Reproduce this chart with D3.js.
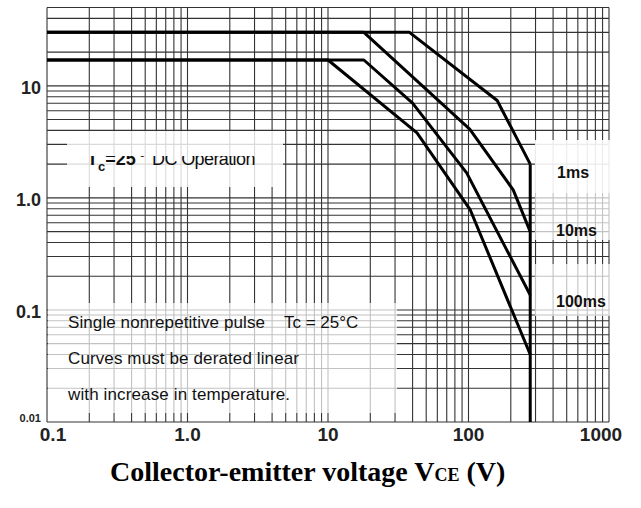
<!DOCTYPE html>
<html lang="en">
<head>
  <meta charset="UTF-8">
  <title>Safe Operating Area</title>
  <script src="https://d3js.org/d3.v7.min.js"></script>
  <style>
    body { margin: 0; background: #fff; }
    svg { display: block; }
    .grid line { stroke: #333; stroke-width: 1.1px; }
    .curve { fill: none; stroke: #000; stroke-width: 3px; stroke-linejoin: round; }
    .tick { font-family: "Liberation Sans", Arial, sans-serif; font-weight: bold; fill: #222; }
    .note { font-family: "Liberation Sans", Arial, sans-serif; font-size: 17px; fill: #111; }
    .lbl { font-family: "Liberation Sans", Arial, sans-serif; font-weight: bold; font-size: 16px; fill: #111; }
    .title { font-family: "Liberation Serif", "Times New Roman", serif; font-weight: bold; font-size: 28px; fill: #000; }
  </style>
</head>
<body>
  <svg id="chart" width="641" height="508"></svg>

  <script>
    // tick labels
    const xTicks = [0.1, 1, 10, 100, 1000];
    const xTickLabels = ["0.1", "1.0", "10", "100", "1000"];
    const yTicks = [10, 1, 0.1, 0.01];
    const yTickLabels = ["10", "1.0", "0.1", "0.01"];

    // curves (VCE in V, IC in A)
    const vce1ms   = [0.1, 38, 160, 275];
    const ic1ms    = [30, 30, 7.4, 2];
    const vce10ms  = [0.1, 18, 102, 208, 275];
    const ic10ms   = [30, 30, 4.1, 1.18, 0.5];
    const vce100ms = [0.1, 18, 40, 97, 275];
    const ic100ms  = [17, 17, 7, 1.67, 0.136];
    const vceDC    = [0.1, 10, 43, 103, 275];
    const icDC     = [17, 17, 3.8, 0.78, 0.04];
    const vceLimit = [275, 275];
    const icLimit  = [2, 0.01];

    const pulseNames = ["1ms", "10ms", "100ms"];
    const pulseLabelIc = [1.7, 0.52, 0.12];

    const svg = d3.select("#chart");
    const x = d3.scaleLog().domain([0.1, 1000]).range([47, 609]);
    const y = d3.scaleLog().domain([0.01, 50]).range([422, 7.5]);

    // log grid: 1..9 in every decade
    function logGrid(lo, hi) {
      const out = [];
      for (let e = Math.floor(Math.log10(lo)); e <= Math.ceil(Math.log10(hi)); e++) {
        for (let k = 1; k <= 9; k++) {
          const v = +(k * Math.pow(10, e)).toPrecision(6);
          if (v >= lo && v <= hi) out.push(v);
        }
      }
      return out;
    }

    const grid = svg.append("g").attr("class", "grid");
    grid.selectAll("line.v").data(logGrid(0.1, 1000)).join("line")
      .attr("class", "v")
      .attr("x1", d => x(d)).attr("x2", d => x(d))
      .attr("y1", y(50)).attr("y2", y(0.01));
    grid.selectAll("line.h").data(logGrid(0.01, 50)).join("line")
      .attr("class", "h")
      .attr("x1", x(0.1)).attr("x2", x(1000))
      .attr("y1", d => y(d)).attr("y2", d => y(d));

    // erased patches behind the notes (the scan has them)
    const patches = [
      { x0: 67, x1: 283, y0: 131, y1: 187, o: 0.82 },
      { x0: 48, x1: 397, y0: 303, y1: 413, o: 0.7 },
      { x0: 535, x1: 612, y0: 140, y1: 193, o: 0.9 },
      { x0: 535, x1: 612, y0: 193, y1: 240, o: 0.7 },
      { x0: 535, x1: 612, y0: 264, y1: 316, o: 0.7 }
    ];
    svg.append("g").selectAll("rect").data(patches).join("rect")
      .attr("x", d => d.x0).attr("y", d => d.y0)
      .attr("width", d => d.x1 - d.x0).attr("height", d => d.y1 - d.y0)
      .attr("fill", "#fff").attr("fill-opacity", d => d.o);

    const line = d3.line().x(d => x(d[0])).y(d => y(d[1]));
    const series = [
      [vce1ms, ic1ms], [vce10ms, ic10ms], [vce100ms, ic100ms], [vceDC, icDC], [vceLimit, icLimit]
    ];
    svg.append("g").selectAll("path").data(series).join("path")
      .attr("class", "curve")
      .attr("d", s => line(s[0].map((v, i) => [v, s[1][i]])));

    // pulse labels
    svg.append("g").selectAll("text").data(pulseNames).join("text")
      .attr("class", "lbl")
      .attr("x", (d, i) => i === 0 ? 557 : 556)
      .attr("y", (d, i) => y(pulseLabelIc[i]) + 6)
      .text(d => d);

    // "Tc=25° DC Operation" - top of the text is cut off in the scan
    svg.append("clipPath").attr("id", "cut")
      .append("rect").attr("x", 60).attr("y", 156).attr("width", 240).attr("height", 40);
    const tc = svg.append("text").attr("clip-path", "url(#cut)")
      .attr("x", 87).attr("y", 165)
      .attr("font-family", "Liberation Sans, Arial, sans-serif").attr("font-size", 18).attr("fill", "#111");
    tc.append("tspan").attr("font-weight", "bold").text("T");
    tc.append("tspan").attr("font-weight", "bold").attr("font-size", 13).attr("dy", 6).text("c");
    tc.append("tspan").attr("font-weight", "bold").attr("dy", -6).text("=25");
    tc.append("tspan").attr("dx", 3).text("°");
    tc.append("tspan").attr("dx", 6).attr("letter-spacing", -0.6).text("DC Operation");

    // notes
    const notes = ["Single nonrepetitive pulse", "Curves must be derated linear", "with increase in temperature."];
    svg.append("g").selectAll("text").data(notes).join("text")
      .attr("class", "note")
      .attr("x", 68).attr("y", (d, i) => 328 + i * 36)
      .attr("textLength", (d, i) => [197, 231, 222][i])
      .text(d => d);
    svg.append("text").attr("class", "note").attr("x", 284).attr("y", 328).text("Tc = 25°C");

    // tick labels
    svg.append("g").selectAll("text").data(xTicks).join("text")
      .attr("class", "tick").attr("font-size", 19)
      .attr("text-anchor", "middle")
      .attr("x", (d, i) => x(d) + (i === 0 ? 6 : i === xTicks.length - 1 ? -8 : 0))
      .attr("y", 441)
      .text((d, i) => xTickLabels[i]);
    svg.append("g").selectAll("text").data(yTicks).join("text")
      .attr("class", "tick")
      .attr("font-size", (d, i) => i === yTicks.length - 1 ? 11 : 18)
      .attr("text-anchor", "end")
      .attr("x", 41)
      .attr("y", (d, i) => i === yTicks.length - 1 ? y(d) : y(d) + 8)
      .text((d, i) => yTickLabels[i]);

    // axis title
    const t = svg.append("text").attr("class", "title").attr("x", 110).attr("y", 481);
    t.append("tspan").text("Collector-emitter voltage V");
    t.append("tspan").attr("font-size", 18).text("CE");
    t.append("tspan").text(" (V)");
  </script>
</body>
</html>
